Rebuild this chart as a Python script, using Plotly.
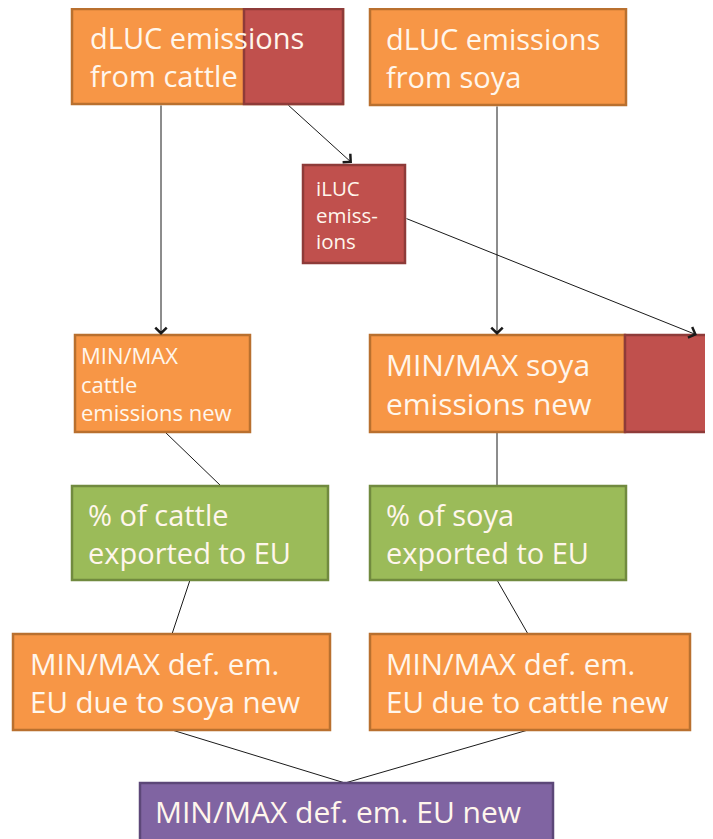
import plotly.graph_objects as go

# Node data: label, fill colour key, box [x0, y0, x1, y1] in diagram units, font size
box_labels = [
    "dLUC emissions<br>from cattle",
    "dLUC emissions<br>from soya",
    "iLUC<br>emiss-<br>ions",
    "MIN/MAX<br>cattle<br>emissions new",
    "MIN/MAX soya<br>emissions new",
    "% of cattle<br>exported to EU",
    "% of soya<br>exported to EU",
    "MIN/MAX def. em.<br>EU due to soya new",
    "MIN/MAX def. em.<br>EU due to cattle new",
    "MIN/MAX def. em. EU new",
]
box_kind = ["orange", "orange", "red", "orange", "orange", "green", "green", "orange", "orange", "purple"]
box_x0 = [72, 370, 303, 75, 370, 72, 370, 13, 370, 140]
box_x1 = [343, 626, 405, 250, 625, 328, 626, 330, 690, 553]
box_y0 = [9, 9, 165, 335, 335, 486, 486, 634, 634, 783]
box_y1 = [104, 105, 263, 432, 432, 580, 580, 730, 730, 845]
box_font = [29, 29, 20.5, 22, 30, 29, 29, 29.5, 29.5, 30]
text_x = [88, 384, 314, 79, 384, 86, 384, 28, 384, 153]

# red overlay segments (portion of box)
overlay_x0 = [244, 625]
overlay_x1 = [343, 716]
overlay_y0 = [9, 335]
overlay_y1 = [104, 432]

# connectors: (x_from, y_from, x_to, y_to, arrow)
conn_x0 = [161, 287, 405, 497, 165, 497, 190, 497, 172, 528]
conn_y0 = [104, 104, 218, 105, 432, 432, 580, 580, 730, 730]
conn_x1 = [161, 352, 697, 497, 221, 497, 172, 528, 345, 345]
conn_y1 = [335, 163, 335, 335, 486, 486, 634, 634, 783, 783]
conn_arrow = [True, True, True, True, False, False, False, False, False, False]

fills = {"orange": "#F79646", "red": "#C0504D", "green": "#9BBB59", "purple": "#8064A2"}
borders = {"orange": "#B9702F", "red": "#8E3B39", "green": "#718A3F", "purple": "#5C4778"}

OFF = 8  # page body margin
fig = go.Figure()
fig.add_trace(go.Scatter(x=[OFF, 713], y=[OFF, 839], mode="markers", marker=dict(opacity=0), hoverinfo="skip", showlegend=False))

shapes = []
for i in range(len(box_labels)):
    k = box_kind[i]
    shapes.append(dict(type="rect", xref="x", yref="y", x0=box_x0[i], x1=box_x1[i], y0=box_y0[i], y1=box_y1[i],
                       fillcolor=fills[k], line=dict(color=borders[k], width=2.5), layer="above"))
for i in range(len(overlay_x0)):
    shapes.append(dict(type="rect", xref="x", yref="y", x0=overlay_x0[i], x1=overlay_x1[i], y0=overlay_y0[i], y1=overlay_y1[i],
                       fillcolor=fills["red"], line=dict(color=borders["red"], width=2.5), layer="above"))
for i in range(len(conn_x0)):
    if not conn_arrow[i]:
        shapes.append(dict(type="line", xref="x", yref="y", x0=conn_x0[i], y0=conn_y0[i], x1=conn_x1[i], y1=conn_y1[i],
                           line=dict(color="#1a1a1a", width=1), layer="below"))

annotations = []
for i in range(len(conn_x0)):
    if conn_arrow[i]:
        annotations.append(dict(x=conn_x1[i], y=conn_y1[i], ax=conn_x0[i], ay=conn_y0[i], xref="x", yref="y",
                                axref="x", ayref="y", showarrow=True, arrowhead=4, arrowsize=2.2, arrowwidth=1,
                                arrowcolor="#1a1a1a", text=""))
for i in range(len(box_labels)):
    yc = (box_y0[i] + min(box_y1[i], 839)) / 2
    annotations.append(dict(x=text_x[i], y=yc, xref="x", yref="y", text=box_labels[i], showarrow=False,
                            xanchor="left", yanchor="middle", align="left",
                            font=dict(family="Open Sans, Lato, sans-serif", size=box_font[i], color="#FFF6EC")))

fig.update_layout(
    width=713 - OFF, height=839 - OFF, margin=dict(l=0, r=0, t=0, b=0),
    paper_bgcolor="white", plot_bgcolor="white",
    xaxis=dict(range=[OFF, 713], visible=False, fixedrange=True),
    yaxis=dict(range=[839, OFF], visible=False, fixedrange=True),
    shapes=shapes, annotations=annotations, showlegend=False,
)
fig.write_html("out.html")
